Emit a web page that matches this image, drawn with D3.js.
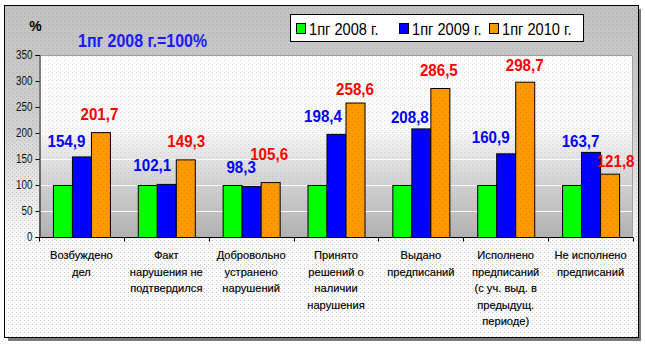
<!DOCTYPE html>
<html><head><meta charset="utf-8">
<script src="https://cdn.jsdelivr.net/npm/d3@7"></script>
<style>html,body{margin:0;padding:0;background:#fff;}svg{display:block;font-family:Arial,"Liberation Sans",sans-serif;}</style>
</head><body>
<svg id="chart" width="645" height="345"></svg>
<script>
const categories = ["Возбуждено\nдел", "Факт\nнарушения не\nподтвердился", "Добровольно\nустранено\nнарушений", "Принято\nрешений о\nналичии\nнарушения", "Выдано\nпредписаний", "Исполнено\nпредписаний\n(с уч. выд. в\nпредыдущ.\nпериоде)", "Не исполнено\nпредписаний"];
const seriesNames = ["1пг 2008 г.", "1пг 2009 г.", "1пг 2010 г."];
const values2008 = [100, 100, 100, 100, 100, 100, 100];
const values2009 = [154.9, 102.1, 98.3, 198.4, 208.8, 160.9, 163.7];
const values2010 = [201.7, 149.3, 105.6, 258.6, 286.5, 298.7, 121.8];
const yTicks = [0, 50, 100, 150, 200, 250, 300, 350];
const unitLabel = "%";
const baseNote = "1пг 2008 г.=100%";
// manual nudges of data labels (as placed in the original)
const labelDx2009 = [-15, -14, -10, -13, -11, -15, -10];
const labelGap2009 = [9, 13, 13, 12, 5, 10, 5];
const labelDx2010 = [-1, 1, -1, 0, -1, 0, 6];
const labelGap2010 = [12, 12, 22, 8, 12, 11, 7];

const colors = ["#00ff00", "#0000ff", "#ff9900"];
const svg = d3.select("#chart");
const defs = svg.append("defs");

// chart area gradient
const g1 = defs.append("linearGradient").attr("id","bgGrad").attr("x1",0).attr("y1",0).attr("x2",0).attr("y2",1);
g1.append("stop").attr("offset","0").attr("stop-color","#c2c2c2");
g1.append("stop").attr("offset","0.35").attr("stop-color","#d0d0d0");
g1.append("stop").attr("offset","0.72").attr("stop-color","#fbfbfb");
g1.append("stop").attr("offset","1").attr("stop-color","#ffffff");
const g2 = defs.append("linearGradient").attr("id","plotGrad").attr("x1",0).attr("y1",0).attr("x2",0).attr("y2",1);
g2.append("stop").attr("offset","0").attr("stop-color","#ffffff");
g2.append("stop").attr("offset","0.4").attr("stop-color","#fafafa");
g2.append("stop").attr("offset","0.62").attr("stop-color","#dcdcdc");
g2.append("stop").attr("offset","1").attr("stop-color","#b2b2b2");
const dots = defs.append("pattern").attr("id","dots").attr("width",4).attr("height",4).attr("patternUnits","userSpaceOnUse");
dots.append("rect").attr("x",0).attr("y",0).attr("width",1).attr("height",1).attr("fill","#999").attr("opacity",0.55);
dots.append("rect").attr("x",2).attr("y",2).attr("width",1).attr("height",1).attr("fill","#999").attr("opacity",0.35);
const odots = defs.append("pattern").attr("id","odots").attr("width",6).attr("height",6).attr("patternUnits","userSpaceOnUse");
odots.append("rect").attr("width",6).attr("height",6).attr("fill","#ff9900");
odots.append("rect").attr("x",1).attr("y",1).attr("width",1).attr("height",1).attr("fill","#d98000");
odots.append("rect").attr("x",4).attr("y",4).attr("width",1).attr("height",1).attr("fill","#d98000");

// frame
svg.append("rect").attr("x",8).attr("y",9).attr("width",633).attr("height",332).attr("fill","#7a7a7a");
svg.append("rect").attr("x",4.5).attr("y",5.5).attr("width",634).attr("height",332).attr("fill","url(#bgGrad)");
svg.append("rect").attr("x",4.5).attr("y",5.5).attr("width",634).attr("height",332).attr("fill","url(#dots)").attr("stroke","#000").attr("stroke-width",1);

const pLeft = 39, pRight = 633, pTop = 55, pBottom = 237;
const x0 = d3.scaleBand().domain(d3.range(categories.length)).range([pLeft, pRight]).paddingInner(0.328).paddingOuter(0.164);
const x1 = d3.scaleBand().domain([0,1,2]).range([0, x0.bandwidth()]).padding(0);
const y = d3.scaleLinear().domain([0, 350]).range([pBottom, pTop]);

// plot area
svg.append("rect").attr("x",pLeft).attr("y",pTop).attr("width",pRight-pLeft).attr("height",pBottom-pTop).attr("fill","url(#plotGrad)");
svg.append("rect").attr("x",pLeft).attr("y",pTop).attr("width",pRight-pLeft).attr("height",pBottom-pTop).attr("fill","url(#dots)").attr("opacity",0.6);
svg.append("g").selectAll("line").data(yTicks.filter(d=>d>0)).join("line")
  .attr("x1",pLeft).attr("x2",pRight).attr("y1",d=>y(d)+0.5).attr("y2",d=>y(d)+0.5)
  .attr("stroke","#fff").attr("stroke-width",1);
svg.append("path").attr("d",`M${pLeft},${pTop+0.5}H${pRight-0.5}V${pBottom}`).attr("fill","none").attr("stroke","#a0a0a0");

// bars
const series = [values2008, values2009, values2010];
series.forEach((vals, si) => {
  svg.append("g").selectAll("rect").data(vals).join("rect")
    .attr("x",(d,i)=>x0(i)+x1(si)+0.5)
    .attr("y",d=>y(d)+0.5)
    .attr("width",x1.bandwidth())
    .attr("height",d=>y(0)-y(d))
    .attr("fill", si===2 ? "url(#odots)" : colors[si])
    .attr("stroke","#000").attr("stroke-width",1);
});

// axes
const yAxis = d3.axisLeft(y).tickValues(yTicks).tickSize(4).tickPadding(3);
const ya = svg.append("g").attr("transform",`translate(${pLeft+0.5},0)`).call(yAxis);
ya.select(".domain").attr("stroke","#000");
ya.selectAll(".tick line").attr("stroke","#000");
ya.selectAll("text").attr("font-size",12).attr("fill","#111").attr("font-family","Arial,'Liberation Sans',sans-serif");

const xa = svg.append("g").attr("transform",`translate(0,${pBottom+0.5})`);
xa.append("line").attr("x1",pLeft).attr("x2",pRight).attr("stroke","#000");
const boundaries = d3.range(categories.length+1).map(i => pLeft + i*x0.step());
xa.selectAll("line.t").data(boundaries).join("line").attr("class","t")
  .attr("x1",d=>Math.round(d)+0.5).attr("x2",d=>Math.round(d)+0.5).attr("y1",0).attr("y2",4).attr("stroke","#000");

// compress helper
function squeeze(sel, f) {
  sel.each(function(){ const w = this.getComputedTextLength(); d3.select(this).attr("textLength", w*f).attr("lengthAdjust","spacingAndGlyphs"); });
}
ya.selectAll("text").call(squeeze, 0.82);

// category labels
const catG = svg.append("g");
categories.forEach((c, i) => {
  const cx = x0(i) + x0.bandwidth()/2;
  c.split("\n").forEach((line, li) => {
    catG.append("text").attr("x",cx).attr("y",259 + li*16.5)
      .attr("text-anchor","middle").attr("font-size",10.5).attr("fill","#000")
      .attr("stroke","#000").attr("stroke-width",0.15).text(line);
  });
});
catG.selectAll("text").call(squeeze, 1.06);

// data labels
const fmt = v => d3.format(".1f")(v).replace(".", ",");
const lab = svg.append("g");
values2009.forEach((v,i) => {
  lab.append("text").attr("x", x0(i)+x1(1)+x1.bandwidth()/2 + labelDx2009[i]).attr("y", y(v)-labelGap2009[i])
    .attr("text-anchor","middle").attr("font-weight","bold").attr("font-size",17).attr("fill","#0000ff").text(fmt(v));
});
values2010.forEach((v,i) => {
  lab.append("text").attr("x", x0(i)+x1(2)+x1.bandwidth()/2 + labelDx2010[i]).attr("y", y(v)-labelGap2010[i])
    .attr("text-anchor","middle").attr("font-weight","bold").attr("font-size",17).attr("fill","#ff0000").text(fmt(v));
});
lab.selectAll("text").call(squeeze, 0.89);

// unit and note
svg.append("text").attr("x",35.5).attr("y",31).attr("text-anchor","middle").attr("font-weight","bold").attr("font-size",14).attr("fill","#000").text(unitLabel);
svg.append("text").attr("x",78).attr("y",47).attr("font-weight","bold").attr("font-size",19).attr("fill","#1a1aff").text(baseNote).call(squeeze, 0.84);

// legend
const lg = svg.append("g");
lg.append("rect").attr("x",290.5).attr("y",14.5).attr("width",293).attr("height",27).attr("fill","#fff").attr("stroke","#000");
const legX = [296, 399, 489];
seriesNames.forEach((n, i) => {
  lg.append("rect").attr("x",legX[i]+0.5).attr("y",23.5).attr("width",9).attr("height",10).attr("fill",colors[i]).attr("stroke","#000");
  lg.append("text").attr("x",legX[i]+13).attr("y",35).attr("font-size",17).attr("fill","#000").text(n).call(squeeze, 0.86);
});
</script>
</body></html>
